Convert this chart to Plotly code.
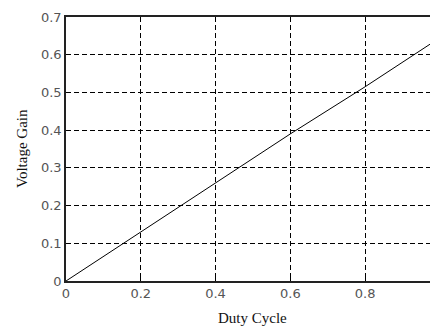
import plotly.graph_objects as go

duty_cycle = [0.0, 0.2, 0.4, 0.6, 0.8, 1.0]
voltage_gain = [0.0, 0.13, 0.26, 0.39, 0.515, 0.645]

x_ticks = [0, 0.2, 0.4, 0.6, 0.8]
x_tick_labels = ["0", "0.2", "0.4", "0.6", "0.8"]
y_ticks = [0, 0.1, 0.2, 0.3, 0.4, 0.5, 0.6, 0.7]
y_tick_labels = ["0", "0.1", "0.2", "0.3", "0.4", "0.5", "0.6", "0.7"]
x_title = "Duty Cycle"
y_title = "Voltage Gain"

fig = go.Figure()
fig.add_trace(go.Scatter(x=duty_cycle, y=voltage_gain, mode="lines",
                         line=dict(color="black", width=1), showlegend=False))

tickfont = dict(family="DejaVu Sans", size=13, color="#555555")
titlefont = dict(family="Liberation Serif", size=15, color="#111111")

fig.update_layout(
    width=430, height=319,
    margin=dict(l=58, r=0, t=9, b=46),
    paper_bgcolor="white", plot_bgcolor="white",
    xaxis=dict(range=[0, 0.995], tickvals=x_ticks, ticktext=x_tick_labels,
               showgrid=True, gridcolor="black", gridwidth=1, griddash="5px,3px",
               zeroline=False, showline=True, linecolor="#222222", linewidth=1.5,
               mirror=True, ticks="inside", ticklen=4, tickcolor="black",
               tickfont=tickfont, automargin=False),
    yaxis=dict(range=[0, 0.7], tickvals=y_ticks, ticktext=y_tick_labels,
               showgrid=True, gridcolor="black", gridwidth=1, griddash="5px,3px",
               zeroline=False, showline=True, linecolor="#222222", linewidth=1.5,
               mirror=False, ticks="inside", ticklen=4, tickcolor="black",
               tickfont=tickfont, automargin=False),
    annotations=[
        dict(text=x_title, xref="paper", yref="paper", x=0.5, y=0,
             xanchor="center", yanchor="middle", yshift=-37,
             showarrow=False, font=titlefont),
        dict(text=y_title, xref="paper", yref="paper", x=0, y=0.5,
             xanchor="center", yanchor="middle", xshift=-44, textangle=-90,
             showarrow=False, font=titlefont),
    ],
)

fig.write_html("out.html")
